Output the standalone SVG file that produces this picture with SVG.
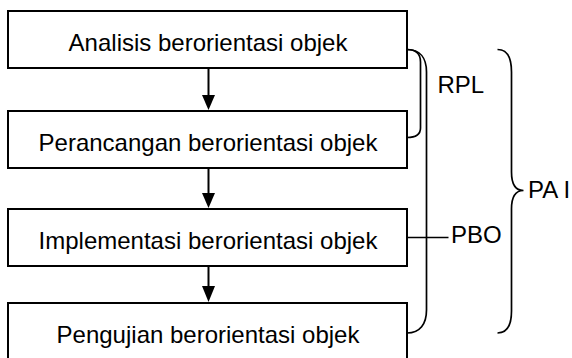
<svg xmlns="http://www.w3.org/2000/svg" width="572" height="358" viewBox="0 0 572 358">
<style>
.box{fill:#fff;stroke:#000;stroke-width:2}
.t{font-family:"Liberation Sans",Arial,sans-serif;font-size:24px;fill:#000}
.c{text-anchor:middle}
.ln{fill:none;stroke:#000;stroke-width:2}
.thin{fill:none;stroke:#000;stroke-width:1.7}
</style>
<g id="n1"><rect class="box" x="8" y="11" width="399" height="57"/><text class="t c" x="208" y="51">Analisis berorientasi objek</text></g>
<g id="n2"><rect class="box" x="8" y="111" width="399" height="57"/><text class="t c" x="208" y="150.5">Perancangan berorientasi objek</text></g>
<g id="n3"><rect class="box" x="8" y="209" width="399" height="57"/><text class="t c" x="208" y="248.5">Implementasi berorientasi objek</text></g>
<g id="n4"><rect class="box" x="8" y="303" width="399" height="60"/><text class="t c" x="208" y="342.5">Pengujian berorientasi objek</text></g>
<g id="connectors">
<line class="ln" x1="208.5" y1="68" x2="208.5" y2="96"/>
<path d="M202,95 L215,95 L208.5,110 Z" fill="#000"/>
<line class="ln" x1="208.5" y1="168" x2="208.5" y2="194"/>
<path d="M202,193 L215,193 L208.5,208 Z" fill="#000"/>
<line class="ln" x1="208.5" y1="266" x2="208.5" y2="287"/>
<path d="M202,286 L215,286 L208.5,302 Z" fill="#000"/>
<path class="thin" d="M407,49.5 C416,49.5 420.5,54 420.5,62 L420.5,128 C420.5,134 416,137.5 407,137.5"/>
<path class="thin" d="M407,49.5 C420,49.5 426.5,58 426.5,72 L426.5,310 C426.5,324 420,333 407,333"/>
<line class="thin" x1="407" y1="237.5" x2="448.5" y2="237.5"/>
<path class="thin" d="M497.5,49.5 C507,49.5 511.5,57 511.5,72 L511.5,172 C511.5,184 515,190.5 523.5,190.5 C515,190.5 511.5,197 511.5,209 L511.5,311 C511.5,326 507,333 497.5,333"/>
</g>
<g id="labels">
<text class="t" x="437.5" y="93.3">RPL</text>
<text class="t" x="451" y="243.3">PBO</text>
<text class="t" x="528" y="198.3">PA I</text>
</g>
</svg>
